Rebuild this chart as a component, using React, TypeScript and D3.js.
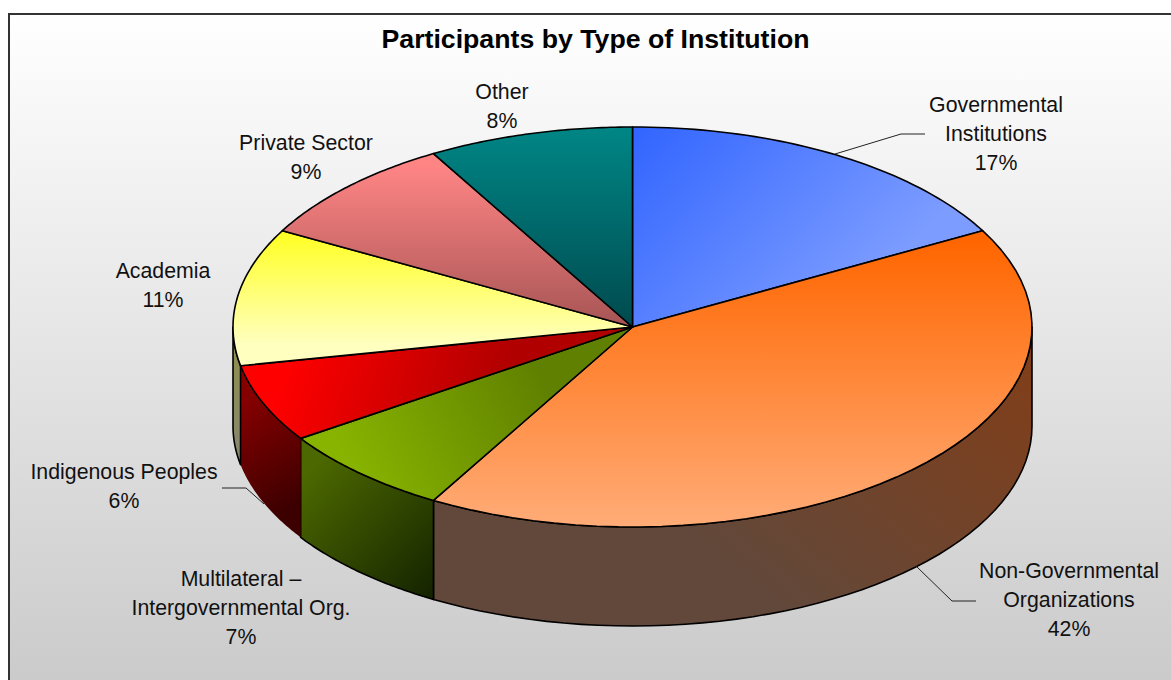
import React from 'react';
import * as d3 from 'd3';

const title = 'Participants by Type of Institution';
const categories = ['Governmental Institutions', 'Non-Governmental Organizations', 'Multilateral – Intergovernmental Org.', 'Indigenous Peoples', 'Academia', 'Private Sector', 'Other'];
const values = [17, 41.3, 7.3, 6.3, 11.1, 8.7, 8.3];
const percentLabels = ['17%', '42%', '7%', '6%', '11%', '9%', '8%'];
const labelLines = [
  ['Governmental', 'Institutions'],
  ['Non-Governmental', 'Organizations'],
  ['Multilateral –', 'Intergovernmental Org.'],
  ['Indigenous Peoples'],
  ['Academia'],
  ['Private Sector'],
  ['Other'],
];
const labelAnchors: [number, number][] = [[996, 105], [1069, 571], [241, 579], [124, 472], [163, 271], [306, 143], [502, 92]];
const leaders: [number, number][][] = [
  [[835, 154], [901, 134], [925, 134]],
  [[916, 566], [952, 601], [976, 601]],
  [],
  [[222, 488], [246, 488], [264, 504]],
  [], [], [],
];
const topColors = [
  ['#3366ff', '#7c9cff', 640, 130, 840, 320],
  ['#ff6600', '#ffac78', 0, 240, 0, 527],
  ['#88b400', '#5f8000', 350, 470, 540, 370],
  ['#ff0000', '#b00000', 280, 380, 480, 450],
  ['#ffff22', '#ffffc0', 0, 232, 0, 345],
  ['#ff8585', '#a85555', 0, 165, 0, 325],
  ['#008585', '#004a4e', 0, 130, 0, 327],
] as const;
const sideColors = [
  ['#888', '#888', 0, 0, 0, 0],
  ['#823e18', '#62483a', 1030, 340, 800, 620],
  ['#4c6800', '#122000', 310, 470, 440, 600],
  ['#860000', '#3c0000', 245, 400, 305, 500],
  ['#8f8f4c', '#88886a', 0, 340, 0, 440],
  ['#888', '#888', 0, 0, 0, 0],
  ['#888', '#888', 0, 0, 0, 0],
] as const;

const width = 1171;
const height = 680;
const cx = 632.5;
const cy = 327;
const rx = 399.5;
const ry = 200;
const depth = 99;

const xs = d3.scaleLinear().domain([-1, 1]).range([cx - rx, cx + rx]);
const ys = d3.scaleLinear().domain([-1, 1]).range([cy - ry, cy + ry]);
const rim = (a0: number, a1: number, dy = 0): [number, number][] =>
  d3.range(0, 49).map((i) => {
    const a = a0 + ((a1 - a0) * i) / 48;
    return [xs(Math.sin(a)), ys(-Math.cos(a)) + dy] as [number, number];
  });
const line = d3.line();
const arcs = d3.pie<number>().sort(null)(values);

export default function App() {
  const front0 = Math.PI / 2;
  const front1 = (Math.PI * 3) / 2;
  return (
    <svg width={width} height={height} style={{ position: 'absolute', left: 0, top: 0, fontFamily: '"Liberation Sans", Arial, sans-serif' }}>
      <defs>
        <linearGradient id="bg" x1="0" y1="0" x2="0" y2="1">
          <stop offset="0" stopColor="#ffffff" />
          <stop offset="1" stopColor="#c8c8c8" />
        </linearGradient>
        {topColors.map((c, i) => (
          <linearGradient key={i} id={`top${i}`} gradientUnits="userSpaceOnUse" x1={c[2]} y1={c[3]} x2={c[4]} y2={c[5]}>
            <stop offset="0" stopColor={c[0]} />
            <stop offset="1" stopColor={c[1]} />
          </linearGradient>
        ))}
        {sideColors.map((c, i) => (
          <linearGradient key={i} id={`side${i}`} gradientUnits="userSpaceOnUse" x1={c[2]} y1={c[3]} x2={c[4]} y2={c[5]}>
            <stop offset="0" stopColor={c[0]} />
            <stop offset="1" stopColor={c[1]} />
          </linearGradient>
        ))}
      </defs>
      <rect x={0} y={0} width={width} height={height} fill="#fff" />
      <rect x={9} y={14} width={width + 20} height={height + 20} fill="url(#bg)" stroke="#333" strokeWidth={2} />
      <text x={595.5} y={48} textAnchor="middle" fontSize={26.7} fontWeight="bold" fill="#000">{title}</text>

      {arcs.map((d, i) => {
        const a0 = Math.max(d.startAngle, front0);
        const a1 = Math.min(d.endAngle, front1);
        if (a0 >= a1) return null;
        const upper = rim(a0, a1);
        const lower = rim(a1, a0, depth);
        return (
          <path key={`s${i}`} d={line([...upper, ...lower])! + 'Z'} fill={`url(#side${i})`} stroke={i === 3 ? 'none' : '#000'} strokeWidth={1.6} strokeLinejoin="round" />
        );
      })}

      {arcs.map((d, i) => (
        <path key={`t${i}`} d={line([[cx, cy], ...rim(d.startAngle, d.endAngle)])! + 'Z'} fill={`url(#top${i})`} stroke="#000" strokeWidth={1.6} strokeLinejoin="round" />
      ))}

      {leaders.map((pts, i) => pts.length ? (
        <path key={`l${i}`} d={line(pts)!} fill="none" stroke="#222" strokeWidth={1} />
      ) : null)}

      {categories.map((name, i) => {
        const lines = [...labelLines[i], percentLabels[i]];
        const [x, y] = labelAnchors[i];
        return (
          <text key={name} textAnchor="middle" fontSize={21.3} fill="#111">
            {lines.map((t, j) => (
              <tspan key={j} x={x} y={y + 7 + j * 29}>{t}</tspan>
            ))}
          </text>
        );
      })}
    </svg>
  );
}
